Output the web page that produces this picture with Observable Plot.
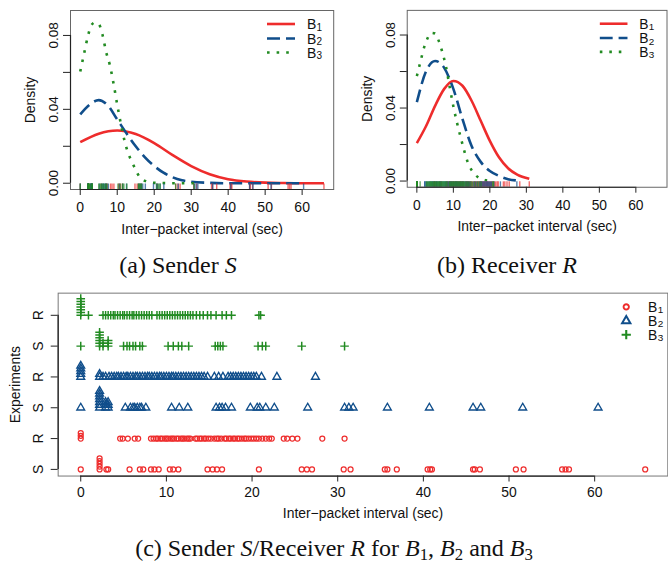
<!DOCTYPE html>
<html><head><meta charset="utf-8">
<script src="https://cdn.jsdelivr.net/npm/d3@7"></script>
<script src="https://cdn.jsdelivr.net/npm/@observablehq/plot@0.6"></script>
<style>
html,body{margin:0;padding:0;background:#fff;overflow:hidden;}
body{width:668px;height:565px;position:relative;font-family:"Liberation Sans",Arial,sans-serif;}
.panel{position:absolute;}
.cap{position:absolute;font-family:"Liberation Serif","DejaVu Serif",serif;font-size:24px;white-space:nowrap;transform:translate(-50%,-50%);color:#111;}
.cap sub{font-size:0.7em;vertical-align:-0.25em;line-height:0;}
</style></head><body>
<div id="pa" class="panel" style="left:0;top:0"></div>
<div id="pb" class="panel" style="left:334px;top:0"></div>
<div id="pc" class="panel" style="left:0;top:285px"></div>
<div class="cap" style="left:178px;top:265px">(a) Sender <i>S</i></div>
<div class="cap" style="left:507px;top:265px">(b) Receiver <i>R</i></div>
<div class="cap" style="left:334px;top:548px">(c) Sender <i>S</i>/Receiver <i>R</i> for <i>B</i><sub>1</sub>, <i>B</i><sub>2</sub> and <i>B</i><sub>3</sub></div>
<script>
// ---------- scales / labels ----------
const xTicks = [0, 10, 20, 30, 40, 50, 60];
const xDomain = [-2.636, 68.536];
const densTicks = [0, 0.02, 0.04, 0.06, 0.08];
const densLabelTicks = [0, 0.04, 0.08];
const densDomain = [-0.0034, 0.0935];
const rowLabels = ["S", "R", "S", "R", "S", "R"];
const seriesNames = ["B1", "B2", "B3"];
const colors = ["#EE2C2C", "#104E8B", "#228B22"];
const xLabel = "Inter\u2212packet interval (sec)";
const yLabelDensity = "Density";
const yLabelExp = "Experiments";

// ---------- raw inter-packet intervals (sec) ----------
const S_B1 = [0, 2.2, 2.2, 2.2, 2.2, 2.2, 3.0, 3.2, 5.7, 6.9, 7.3, 8.2, 8.6, 9.1, 10.4, 10.8, 11.4, 14.8, 15.4, 15.9, 16.5, 20.8, 25.8, 26.4, 27.0, 30.7, 31.5, 35.5, 35.8, 36.9, 40.5, 40.8, 41.0, 45.8, 46.0, 46.6, 50.8, 51.7, 56.2, 56.6, 57.0, 65.9];
const R_B1 = [0, 0, 0, 4.6, 4.9, 5.5, 6.3, 6.7, 8.2, 8.5, 8.8, 9.0, 9.3, 9.5, 9.8, 10.0, 10.2, 10.5, 10.7, 10.9, 11.2, 11.4, 11.7, 11.9, 12.1, 12.4, 12.6, 12.8, 13.4, 13.6, 13.9, 14.1, 14.4, 14.6, 14.9, 15.2, 15.6, 15.9, 16.1, 16.4, 16.8, 17.0, 17.3, 17.5, 17.8, 18.0, 18.3, 18.5, 18.8, 19.1, 19.3, 19.6, 19.9, 20.2, 20.5, 20.8, 21.2, 21.6, 22.0, 22.3, 23.7, 24.1, 24.7, 25.3, 28.2, 30.8];
const S_B2 = [0, 2.2, 2.2, 2.2, 2.2, 2.2, 2.2, 2.2, 2.9, 2.9, 2.9, 3.2, 3.2, 3.2, 5.2, 5.8, 6.1, 6.3, 6.6, 6.9, 7.1, 7.6, 10.6, 11.5, 12.5, 15.8, 16.2, 16.5, 16.9, 17.6, 19.8, 20.6, 20.9, 21.6, 22.6, 26.5, 30.8, 31.3, 31.8, 35.8, 40.7, 45.8, 46.7, 51.6, 60.4];
const R_B2 = [0, 0, 0, 0, 0, 2.2, 2.2, 2.6, 2.9, 3.3, 3.6, 3.9, 4.2, 4.4, 4.7, 5.0, 5.3, 5.5, 5.8, 6.1, 6.4, 6.6, 6.9, 7.2, 7.5, 7.8, 8.0, 8.3, 8.6, 8.9, 9.2, 9.4, 9.7, 10.0, 10.3, 10.6, 10.8, 11.1, 11.4, 11.7, 12.0, 12.3, 12.6, 12.9, 13.2, 13.5, 13.8, 14.1, 14.4, 14.8, 15.6, 16.1, 16.6, 17.2, 17.5, 17.8, 18.1, 18.4, 18.7, 19.0, 19.3, 19.6, 19.9, 20.2, 20.5, 21.1, 22.9, 27.4];
const S_B3 = [0, 2.2, 2.2, 2.2, 2.2, 2.2, 2.2, 2.6, 2.6, 3.2, 3.2, 3.2, 5.0, 5.4, 5.7, 6.1, 6.4, 6.9, 7.2, 10.2, 10.8, 11.4, 11.8, 12.6, 15.7, 16.0, 16.3, 16.6, 20.7, 21.2, 21.6, 25.8, 30.8];
const R_B3 = [0, 0, 0, 0, 0, 0, 0, 0.9, 2.6, 2.9, 3.2, 3.5, 3.8, 4.0, 4.3, 4.6, 4.9, 5.1, 5.4, 5.7, 6.0, 6.2, 6.5, 6.8, 7.1, 7.4, 7.7, 8.0, 8.3, 8.9, 9.2, 9.5, 9.8, 10.1, 10.4, 10.7, 11.0, 11.3, 11.6, 11.9, 12.2, 12.5, 12.8, 13.1, 13.5, 13.9, 14.3, 14.8, 15.2, 15.8, 16.5, 17.0, 17.6, 20.8, 21.0];

// ---------- density curves ----------
const densS_B1_x = [0, 5, 10, 15, 20, 25, 30, 35, 40, 45, 50, 55, 60, 65.9];
const densS_B1_y = [0.0222, 0.0268, 0.0285, 0.0266, 0.0217, 0.0152, 0.0093, 0.0049, 0.0022, 0.0009, 0.0003, 0.0001, 0.0000, 0.0000];
const densS_B2_x = [0, 2.5, 5, 7.5, 10, 12.5, 15, 17.5, 20, 22.5, 25, 27.5, 30, 35, 40, 45, 50, 55, 60.4];
const densS_B2_y = [0.0373, 0.0425, 0.0450, 0.0420, 0.0345, 0.0270, 0.0200, 0.0140, 0.0093, 0.0057, 0.0032, 0.0016, 0.0008, 0.0002, 0.0000, 0.0000, 0.0000, 0.0000, 0.0000];
const densS_B3_x = [0, 1, 2, 3, 4, 5, 6, 7, 8, 9, 10, 11, 12, 13, 14, 15, 16, 17, 18, 20, 22, 25, 28, 30.8];
const densS_B3_y = [0.0605, 0.0698, 0.0790, 0.0855, 0.0870, 0.0862, 0.0805, 0.0710, 0.0640, 0.0540, 0.0425, 0.0320, 0.0228, 0.0160, 0.0115, 0.0072, 0.0035, 0.0018, 0.0009, 0.0002, 0.0001, 0.0000, 0.0000, 0.0000];
const densR_B1_x = [0, 2.5, 5, 7.5, 10, 12.5, 15, 17.5, 20, 22.5, 25, 27.5, 30.8];
const densR_B1_y = [0.0208, 0.0300, 0.0412, 0.0505, 0.0548, 0.0522, 0.0440, 0.0330, 0.0220, 0.0130, 0.0070, 0.0035, 0.0012];
const densR_B2_x = [0, 2.5, 5, 7.5, 10, 12.5, 15, 17.5, 20, 22.5, 25, 27.4];
const densR_B2_y = [0.0432, 0.0600, 0.0658, 0.0620, 0.0505, 0.0340, 0.0192, 0.0105, 0.0055, 0.0028, 0.0010, 0.0003];
const densR_B3_x = [0, 1, 2, 3, 4, 5, 6, 7, 8, 9, 10, 11, 12, 13, 14, 15, 16, 17, 18, 19, 21];
const densR_B3_y = [0.0575, 0.0655, 0.0733, 0.0785, 0.0812, 0.0808, 0.0768, 0.0705, 0.0625, 0.0515, 0.0410, 0.0320, 0.0240, 0.0165, 0.0100, 0.0060, 0.0034, 0.0018, 0.0009, 0.0004, 0.0001];

const lineStyles = [
  {w: 2.6, dash: null},
  {w: 2.6, dash: "13,6"},
  {w: 2.6, dash: "2.6,7"}
];
const FONT = "'Liberation Sans', Arial, sans-serif";
const vText = {textAnchor: "middle", lineAnchor: "middle", rotate: -90, fill: "#111"};

function pairs(xs, ys) { return xs.map((x, i) => ({x, y: ys[i]})); }

// legend label "B" with a subscript digit, as two separate adjacent texts
function legendLabel(g, x, y, name) {
  g.append("text").attr("x", x).attr("y", y).attr("dy", "0.36em")
    .attr("font-size", 14).attr("fill", "#111").attr("text-anchor", "start").text(name[0]);
  g.append("text").attr("x", x + 9.6).attr("y", y + 3).attr("dy", "0.36em")
    .attr("font-size", 10).attr("fill", "#111").attr("text-anchor", "start").text(name.slice(1));
}

function densityPanel(el, curves, rugs, width, marginLeft, marginRight, legendX) {
  const height = 240, marginTop = 10, marginBottom = 51;
  const frameH = height - marginTop - marginBottom;
  const marks = [];
  curves.forEach((c, i) => {
    marks.push(Plot.line(c, {x: "x", y: "y", stroke: colors[i], strokeWidth: lineStyles[i].w,
      strokeDasharray: lineStyles[i].dash, strokeLinecap: "butt", curve: "monotone-x"}));
  });
  rugs.forEach((r, i) => {
    marks.push(Plot.ruleX(r, {x: d => d, stroke: colors[i], strokeWidth: 1.4, strokeOpacity: 0.7, insetTop: frameH - 5.5}));
  });
  marks.push(
    Plot.frame({stroke: "#666", strokeWidth: 1}),
    Plot.ruleY([densDomain[0]], {x1: xTicks[0], x2: xTicks[xTicks.length - 1], stroke: "#222", strokeWidth: 1.2}),
    Plot.ruleX([xDomain[0]], {y1: densTicks[0], y2: densTicks[densTicks.length - 1], stroke: "#222", strokeWidth: 1.2}),
    Plot.axisX(xTicks, {tickSize: 6, tickPadding: 7, label: null, fontSize: 14, stroke: "#222"}),
    Plot.axisY(densTicks, {tickSize: 7, tickFormat: () => "", label: null, stroke: "#222"}),
    Plot.text(densLabelTicks, {y: d => d, frameAnchor: "left", dx: -17, fontSize: 13.5,
      text: d => d3.format(".2f")(d), ...vText}),
    Plot.text([yLabelDensity], {frameAnchor: "left", dx: -40, fontSize: 14, ...vText}),
    Plot.text([xLabel], {frameAnchor: "bottom", dy: 40, fontSize: 14, textAnchor: "middle", lineAnchor: "middle", fill: "#111"})
  );
  const svg = Plot.plot({
    width, height, marginLeft, marginRight, marginTop, marginBottom,
    style: {fontFamily: FONT, fontSize: "14px", background: "transparent", overflow: "visible", color: "#111"},
    x: {domain: xDomain},
    y: {domain: densDomain},
    marks
  });
  // legend
  const g = d3.select(svg).append("g").attr("font-family", FONT).attr("text-anchor", "start");
  const ys = [24, 38.5, 52.5];
  seriesNames.forEach((name, i) => {
    g.append("line").attr("x1", legendX).attr("x2", legendX + 28).attr("y1", ys[i]).attr("y2", ys[i])
      .attr("stroke", colors[i]).attr("stroke-width", lineStyles[i].w)
      .attr("stroke-dasharray", lineStyles[i].dash);
    legendLabel(g, legendX + 40, ys[i], name);
  });
  document.getElementById(el).appendChild(svg);
}

densityPanel("pa",
  [pairs(densS_B1_x, densS_B1_y), pairs(densS_B2_x, densS_B2_y), pairs(densS_B3_x, densS_B3_y)],
  [S_B1, S_B2, S_B3], 334, 70, 0.8, 267);
densityPanel("pb",
  [pairs(densR_B1_x, densR_B1_y), pairs(densR_B2_x, densR_B2_y), pairs(densR_B3_x, densR_B3_y)],
  [R_B1, R_B2, R_B3], 338, 73.6, 1.5, 269);

// ---------- strip chart (panel c) ----------
const stripRows = [S_B1, R_B1, S_B2, R_B2, S_B3, R_B3];
const rowSeries = [0, 0, 1, 1, 2, 2];
const rowTicks = rowLabels.map((_, i) => i + 1);
const stackOffset = 0.09;
const pts = [];
stripRows.forEach((vals, ri) => {
  const seen = new Map();
  vals.forEach(v => {
    const k = seen.get(v) || 0;
    seen.set(v, k + 1);
    pts.push({x: v, y: ri + 1 + k * stackOffset, s: rowSeries[ri]});
  });
});
const symbols = ["circle", "triangle", "plus"];
const symR = [2.5, 2.9, 2.9];
const symW = [1.3, 1.4, 1.5];
(function () {
  const width = 672, height = 245, marginLeft = 58, marginRight = 0.7, marginTop = 7.7, marginBottom = 53.3;
  const yDomain = [0.784, 6.719];
  const marks = [];
  [0, 1, 2].forEach(s => {
    marks.push(Plot.dot(pts.filter(d => d.s === s), {x: "x", y: "y", symbol: () => symbols[s], r: symR[s],
      stroke: colors[s], fill: "none", strokeWidth: symW[s]}));
  });
  marks.push(
    Plot.frame({stroke: "#777", strokeWidth: 1}),
    Plot.ruleY([yDomain[0]], {x1: xTicks[0], x2: xTicks[xTicks.length - 1], stroke: "#222", strokeWidth: 1.3}),
    Plot.ruleX([xDomain[0]], {y1: rowTicks[0], y2: rowTicks[rowTicks.length - 1], stroke: "#222", strokeWidth: 1.3}),
    Plot.axisX(xTicks, {tickSize: 6, tickPadding: 5.5, label: null, fontSize: 14, stroke: "#222"}),
    Plot.axisY(rowTicks, {tickSize: 7, tickFormat: () => "", label: null, stroke: "#222"}),
    Plot.text(rowTicks, {y: d => d, frameAnchor: "left", dx: -20, fontSize: 14,
      text: d => rowLabels[d - 1], ...vText}),
    Plot.text([yLabelExp], {frameAnchor: "left", dx: -43, fontSize: 14, ...vText}),
    Plot.text([xLabel], {frameAnchor: "bottom", dy: 38, fontSize: 14, textAnchor: "middle", lineAnchor: "middle", fill: "#111"})
  );
  const svg = Plot.plot({
    width, height, marginLeft, marginRight, marginTop, marginBottom,
    style: {fontFamily: FONT, fontSize: "14px", background: "transparent", overflow: "visible", color: "#111"},
    x: {domain: xDomain},
    y: {domain: yDomain},
    symbol: {type: "identity"},
    marks
  });
  const g = d3.select(svg).append("g").attr("font-family", FONT).attr("text-anchor", "start");
  const ys = [22, 36, 50];
  const sym = [d3.symbolCircle, d3.symbolTriangle, d3.symbolPlus];
  seriesNames.forEach((name, i) => {
    g.append("path").attr("transform", `translate(630,${ys[i]})`)
      .attr("d", d3.symbol(sym[i], Math.PI * symR[i] * symR[i] * 1.15)())
      .attr("fill", "none").attr("stroke", colors[i]).attr("stroke-width", symW[i] + 0.6);
    legendLabel(g, 652, ys[i], name);
  });
  document.getElementById("pc").appendChild(svg);
})();
</script>
</body></html>
